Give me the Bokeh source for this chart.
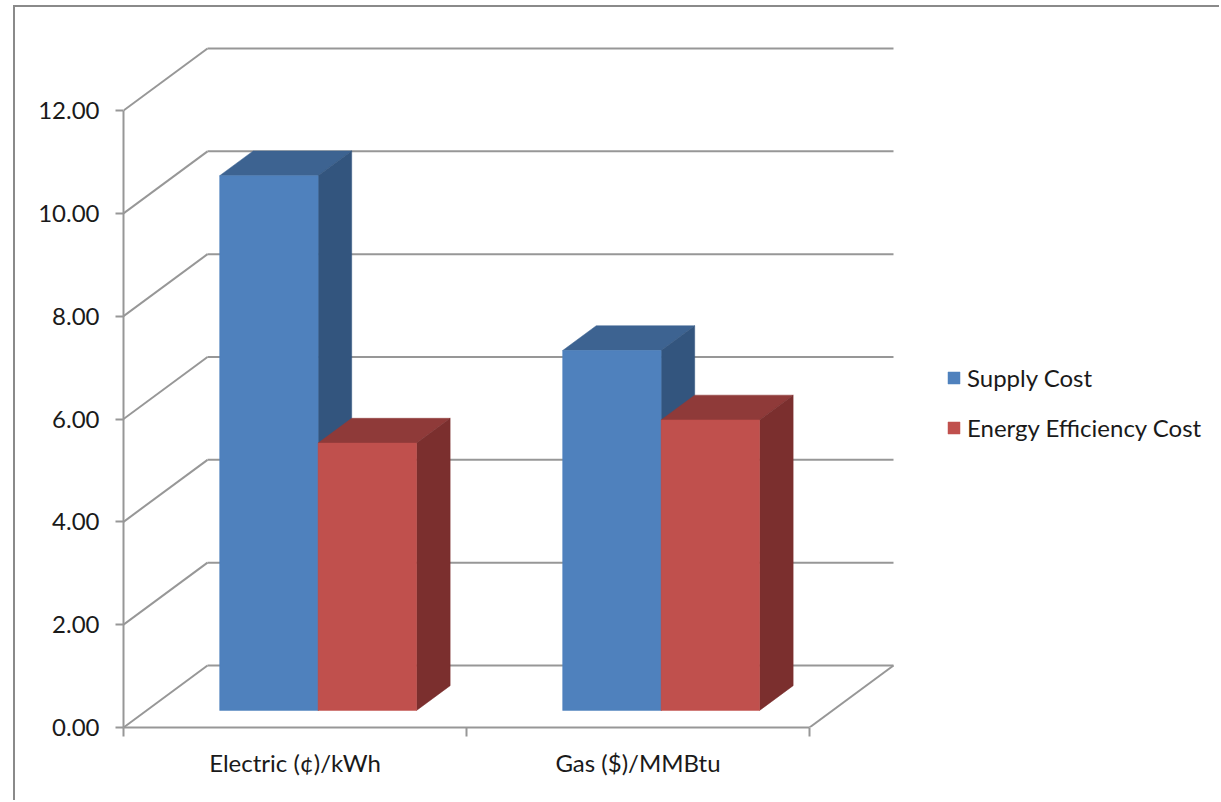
from bokeh.plotting import figure
from bokeh.models import (Range1d, FixedTicker, Legend, LegendItem,
                          NumeralTickFormatter, ColumnDataSource)
from bokeh.embed import file_html
from bokeh.resources import INLINE

# ---- data -------------------------------------------------------------
categories = ["Electric (¢)/kWh", "Gas ($)/MMBtu"]
series_names = ["Supply Cost", "Energy Efficiency Cost"]
supply_cost = [10.4, 7.0]
efficiency_cost = [5.2, 5.65]
y_ticks = [0, 2, 4, 6, 8, 10, 12]

# ---- styling / geometry of the oblique 3-D projection -------------------
FONT = "Lato"
FONT_SIZE = "24px"
TEXT_COLOR = "#1a1a1a"
GRID_COLOR = "#979797"
FACE = {"Supply Cost": ("#4f81bd", "#3d6391", "#33557e"),
        "Energy Efficiency Cost": ("#c0504d", "#8f3a39", "#7b2f2e")}

PX_PER_CAT = 343.0
PX_PER_VAL = 617.0 / 12.0
DEPTH_X = 84.0 / PX_PER_CAT      # wall depth expressed in category units
DEPTH_Y = 62.0 / PX_PER_VAL      # wall depth expressed in value units
BAR_W = 0.287                    # bar width in category units
BAR_FRONT = 0.275                # depth fraction of bar front face
BAR_BACK = 0.675                 # depth fraction of bar back face

n_cat = len(categories)


def proj(x, v, d):
    """Project a point (category x, value v, depth fraction d) to plot space."""
    return x + d * DEPTH_X, v + d * DEPTH_Y


p = figure(width=1206, height=795,
           x_range=Range1d(0, 1096.0 / PX_PER_CAT),
           y_range=Range1d(0, 720.0 / PX_PER_VAL),
           output_backend="svg", toolbar_location=None,
           min_border_left=108, min_border_right=2,
           min_border_top=0, min_border_bottom=75)
p.margin = (5, 0, 0, 13)
p.styles = {"border-top": "2px solid #8a8a8a", "border-left": "2px solid #8a8a8a"}
p.grid.visible = False
p.outline_line_color = None
p.background_fill_color = "white"
p.border_fill_color = "white"

# ---- walls: back-wall gridlines, left-wall obliques, floor edge ----------
wall_xs, wall_ys = [], []
for v in y_ticks:
    bx0, by = proj(0, v, 1)
    bx1, _ = proj(n_cat, v, 1)
    wall_xs.append([bx0, bx1])
    wall_ys.append([by, by])
    wall_xs.append([0, bx0])
    wall_ys.append([v, by])
fx, fy = proj(n_cat, 0, 1)
wall_xs.append([n_cat, fx])
wall_ys.append([0, fy])
p.multi_line(wall_xs, wall_ys, line_color=GRID_COLOR, line_width=2)

# ---- bars -------------------------------------------------------------
legend_items = []
for j, (name, vals) in enumerate(zip(series_names, [supply_cost, efficiency_cost])):
    front_c, top_c, side_c = FACE[name]
    fl, fr, fb, ft = [], [], [], []
    pxs, pys, pcol = [], [], []
    for i, v in enumerate(vals):
        x0 = i + 0.5 - BAR_W + j * BAR_W
        x1 = x0 + BAR_W
        a = proj(x0, v, BAR_FRONT)
        b = proj(x1, v, BAR_FRONT)
        c = proj(x1, v, BAR_BACK)
        d = proj(x0, v, BAR_BACK)
        pxs.append([a[0], b[0], c[0], d[0]])
        pys.append([a[1], b[1], c[1], d[1]])
        pcol.append(top_c)
        e = proj(x1, 0, BAR_FRONT)
        f = proj(x1, 0, BAR_BACK)
        pxs.append([e[0], f[0], c[0], b[0]])
        pys.append([e[1], f[1], c[1], b[1]])
        pcol.append(side_c)
        fl.append(a[0])
        fr.append(b[0])
        fb.append(e[1])
        ft.append(a[1])
    p.patches(pxs, pys, fill_color=pcol, line_color=pcol, line_width=0.5)
    front = p.quad(source=ColumnDataSource(dict(left=fl, right=fr, bottom=fb, top=ft)),
                   left="left", right="right", bottom="bottom", top="top",
                   fill_color=front_c, line_color=front_c, line_width=0.5)
    legend_items.append(LegendItem(label=name, renderers=[front]))

# ---- axes -------------------------------------------------------------
yax = p.yaxis[0]
yax.ticker = FixedTicker(ticks=y_ticks)
yax.formatter = NumeralTickFormatter(format="0.00")
yax.bounds = (0, 12)
yax.major_tick_in = 0
yax.major_tick_out = 8
yax.major_label_standoff = 16

xax = p.xaxis[0]
xax.ticker = FixedTicker(ticks=[i + 0.5 for i in range(n_cat)],
                         minor_ticks=list(range(n_cat + 1)))
xax.major_label_overrides = {i + 0.5: c for i, c in enumerate(categories)}
xax.bounds = (0, n_cat)
xax.major_tick_in = 0
xax.major_tick_out = 0
xax.minor_tick_in = 0
xax.minor_tick_out = 9
xax.major_label_standoff = 11

for ax in (xax, yax):
    ax.axis_line_color = GRID_COLOR
    ax.axis_line_width = 2
    ax.major_tick_line_color = GRID_COLOR
    ax.major_tick_line_width = 2
    ax.minor_tick_line_color = GRID_COLOR if ax is xax else None
    ax.minor_tick_line_width = 2
    ax.major_label_text_font = FONT
    ax.major_label_text_font_size = FONT_SIZE
    ax.major_label_text_color = TEXT_COLOR

# ---- legend -----------------------------------------------------------
legend = Legend(items=legend_items, location=(823, 285),
                glyph_width=15, glyph_height=15, label_height=26,
                label_standoff=6, spacing=21, padding=0, margin=0,
                border_line_color=None, background_fill_alpha=0,
                label_text_font=FONT, label_text_font_size=FONT_SIZE,
                label_text_color=TEXT_COLOR)
p.add_layout(legend)

open("out.html", "w").write(file_html(p, INLINE))
